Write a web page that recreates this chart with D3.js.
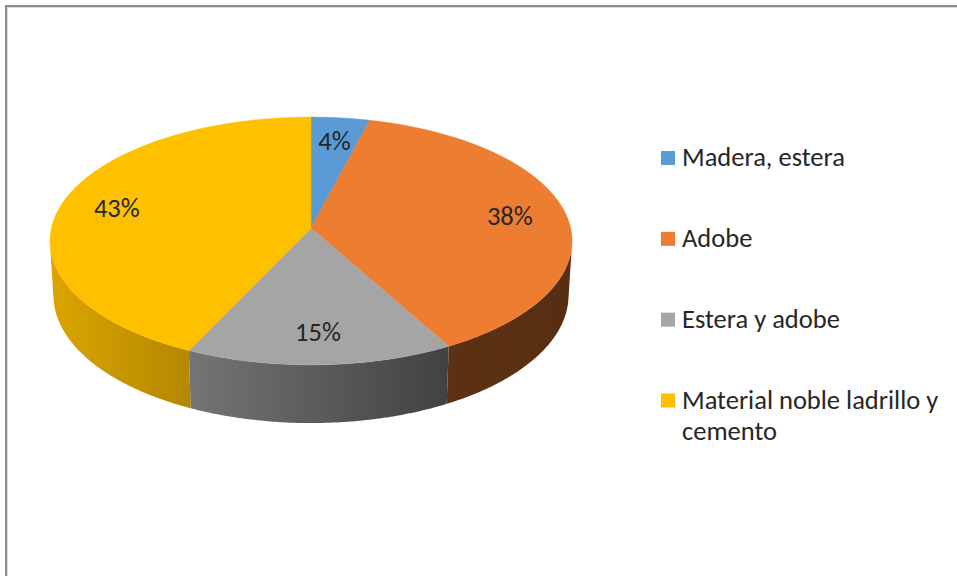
<!DOCTYPE html>
<html><head><meta charset="utf-8">
<script src="https://cdn.jsdelivr.net/npm/d3@7"></script>
<style>html,body{margin:0;padding:0;background:#fff;overflow:hidden}</style>
</head><body>
<svg id="chart" width="957" height="576"></svg>
<script>
// Material de construcción de la vivienda
const categories = ["Madera, estera", "Adobe", "Estera y adobe", "Material noble ladrillo y cemento"];
const values = [4, 38, 15, 43];
const labels = ["4%", "38%", "15%", "43%"];
const colors = ["#5B9BD5", "#ED7D31", "#A5A5A5", "#FFC000"];

const W = 957, H = 576;
const svg = d3.select("#chart");
const FONT = "Carlito, Calibri, Lato, sans-serif";

// frame lines (top and left)
svg.append("line").attr("x1", 5).attr("x2", W).attr("y1", 6).attr("y2", 6)
  .attr("stroke", "#8c8c8c").attr("stroke-width", 2);
svg.append("line").attr("x1", 6).attr("x2", 6).attr("y1", 5).attr("y2", H)
  .attr("stroke", "#8c8c8c").attr("stroke-width", 2);
svg.append("line").attr("x1", 7).attr("x2", W).attr("y1", 7.5).attr("y2", 7.5)
  .attr("stroke", "#dcdcdc").attr("stroke-width", 1);
svg.append("line").attr("x1", 7.5).attr("x2", 7.5).attr("y1", 7).attr("y2", H)
  .attr("stroke", "#dcdcdc").attr("stroke-width", 1);

// perspective view of a tilted disc (unit radius)
const cx = 311, cy = 228;
const tilt = Math.asin(0.472);
const dist = 8.41;
const radiusPx = 259.6;
const focal = radiusPx * dist;
const thick = 0.239;

function project(theta, r, h) {
  const u = r * Math.sin(theta), v = r * Math.cos(theta);
  const Y = v * Math.sin(tilt) + h * Math.cos(tilt);
  const Z = dist + v * Math.cos(tilt) - h * Math.sin(tilt);
  return [cx + focal * u / Z, cy - focal * Y / Z];
}
function arcPts(a0, a1, h) {
  const n = Math.max(2, Math.ceil(Math.abs(a1 - a0) / (Math.PI / 360)));
  return d3.range(n + 1).map(i => project(a0 + (a1 - a0) * i / n, 1, h));
}

const arcs = d3.pie().sort(null).value(d => d)(values);
const line = d3.line();

// shading of the outer wall, lighter on the left
const shade = [[0, 0.86], [0.28, 0.70], [0.776, 0.39], [1, 0.37]];
const defs = svg.append("defs");
colors.forEach((c, i) => {
  const g = defs.append("linearGradient").attr("id", "side" + i)
    .attr("gradientUnits", "userSpaceOnUse")
    .attr("x1", cx - radiusPx - 2).attr("x2", cx + radiusPx + 2).attr("y1", 0).attr("y2", 0);
  const base = d3.rgb(c);
  shade.forEach(([o, f]) => {
    g.append("stop").attr("offset", o)
      .attr("stop-color", d3.rgb(base.r * f, base.g * f, base.b * f).formatHex());
  });
});

// visible range of the outer wall
const vis0 = Math.acos(-1 / (dist * Math.cos(tilt)));
const vis1 = 2 * Math.PI - vis0;

const sides = svg.append("g");
arcs.forEach((a, i) => {
  const s = Math.max(a.startAngle, vis0), e = Math.min(a.endAngle, vis1);
  if (s >= e) return;
  const pts = arcPts(s, e, 0).concat(arcPts(e, s, -thick));
  sides.append("path").attr("d", line(pts) + "Z").attr("fill", `url(#side${i})`);
});

const tops = svg.append("g");
arcs.forEach((a, i) => {
  const pts = [project(0, 0, 0)].concat(arcPts(a.startAngle, a.endAngle, 0));
  tops.append("path").attr("d", line(pts) + "Z").attr("fill", colors[i])
    .attr("stroke", colors[i]).attr("stroke-width", 0.5);
});

// data labels
const labelR = 0.78;
svg.append("g").selectAll("text").data(arcs).join("text")
  .attr("x", d => project((d.startAngle + d.endAngle) / 2, labelR, 0)[0])
  .attr("y", d => project((d.startAngle + d.endAngle) / 2, labelR, 0)[1])
  .attr("dy", "0.35em").attr("text-anchor", "middle")
  .attr("font-family", FONT).attr("font-size", 26.5).attr("fill", "#262626")
  .text((d, i) => labels[i]);

// legend
const ly = d3.scaleLinear().domain([0, categories.length - 1]).range([158, 400.5]);
const legend = svg.append("g");
categories.forEach((c, i) => {
  const y = ly(i);
  legend.append("rect").attr("x", 661).attr("y", y - 7).attr("width", 14).attr("height", 14)
    .attr("fill", colors[i]);
  const t = legend.append("text").attr("x", 682).attr("y", y + 8)
    .attr("font-family", FONT).attr("font-size", 26.5).attr("fill", "#262626");
  // wrap long names
  const words = c.split(" ");
  let lineWords = [], tspan = t.append("tspan").attr("x", 682).attr("dy", 0);
  words.forEach(w => {
    lineWords.push(w);
    tspan.text(lineWords.join(" "));
    if (tspan.node().getComputedTextLength() > 272 && lineWords.length > 1) {
      lineWords.pop();
      tspan.text(lineWords.join(" "));
      lineWords = [w];
      tspan = t.append("tspan").attr("x", 682).attr("dy", 31).text(w);
    }
  });
});
</script>
</body></html>
